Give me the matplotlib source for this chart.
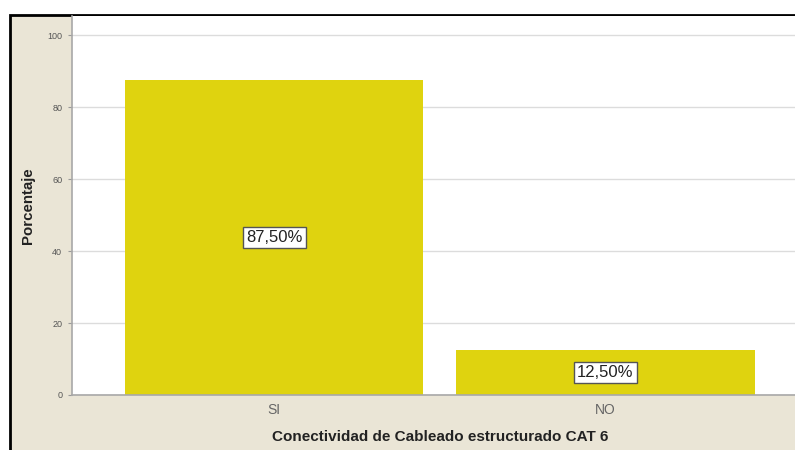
import matplotlib
matplotlib.use('Agg')
import matplotlib.pyplot as plt
from matplotlib.patches import Rectangle

plt.rcParams['font.family'] = ['Liberation Sans', 'DejaVu Sans']

categories = ['SI', 'NO']
percentages = [87.5, 12.5]
value_labels = ['87,50%', '12,50%']
y_ticks = [0, 20, 40, 60, 80, 100]

beige = '#EAE5D6'
bar_color = '#DFD30F'

fig = plt.figure(figsize=(7.95, 4.5), dpi=100)
fig.patch.set_facecolor('white')

# framed beige panel, kept behind the axes
panel = Rectangle((9.5 / 795, -0.01), 1.0, 1 - 14.5 / 450 + 0.01,
                  transform=fig.transFigure, facecolor=beige,
                  edgecolor='black', linewidth=2, zorder=-10)
fig.patches.append(panel)

ax = fig.add_axes([72 / 795, 1 - 395 / 450, 1 - 72 / 795, (395 - 16) / 450])
ax.set_zorder(1)
ax.set_facecolor('white')

x = range(len(categories))
ax.bar(x, percentages, width=0.9, color=bar_color, zorder=2)

for xi, val, lab in zip(x, percentages, value_labels):
    ax.text(xi, val / 2, lab, ha='center', va='center', fontsize=12,
            color='#222222', zorder=3,
            bbox=dict(boxstyle='square,pad=0.2', facecolor='white',
                      edgecolor='#555555', linewidth=1))

ax.set_xlim(-0.61, 1.572)
ax.set_ylim(0, 105.3)
ax.set_yticks(y_ticks)
ax.set_xticks(list(x))
ax.set_xticklabels(categories, fontsize=10, color='#666666')
ax.tick_params(axis='y', labelsize=6.5, labelcolor='#555555', length=3,
               color='#999999', pad=4)
ax.tick_params(axis='x', length=0, pad=6)

ax.grid(axis='y', color='#DCDCDC', linewidth=1, zorder=1)
ax.set_axisbelow(True)
for side in ['top', 'right']:
    ax.spines[side].set_visible(False)
for side in ['left', 'bottom']:
    ax.spines[side].set_color('#A8A8A8')
    ax.spines[side].set_linewidth(1.2)

fig.text(28 / 795, 1 - 206 / 450, 'Porcentaje', rotation=90, ha='center',
         va='center', fontsize=10.8, fontweight='bold', color='#222222')
fig.text(440 / 795, 1 - 437 / 450, 'Conectividad de Cableado estructurado CAT 6',
         ha='center', va='center', fontsize=11, fontweight='bold',
         color='#222222')

fig.savefig('out.png', dpi=100, facecolor=fig.get_facecolor())
